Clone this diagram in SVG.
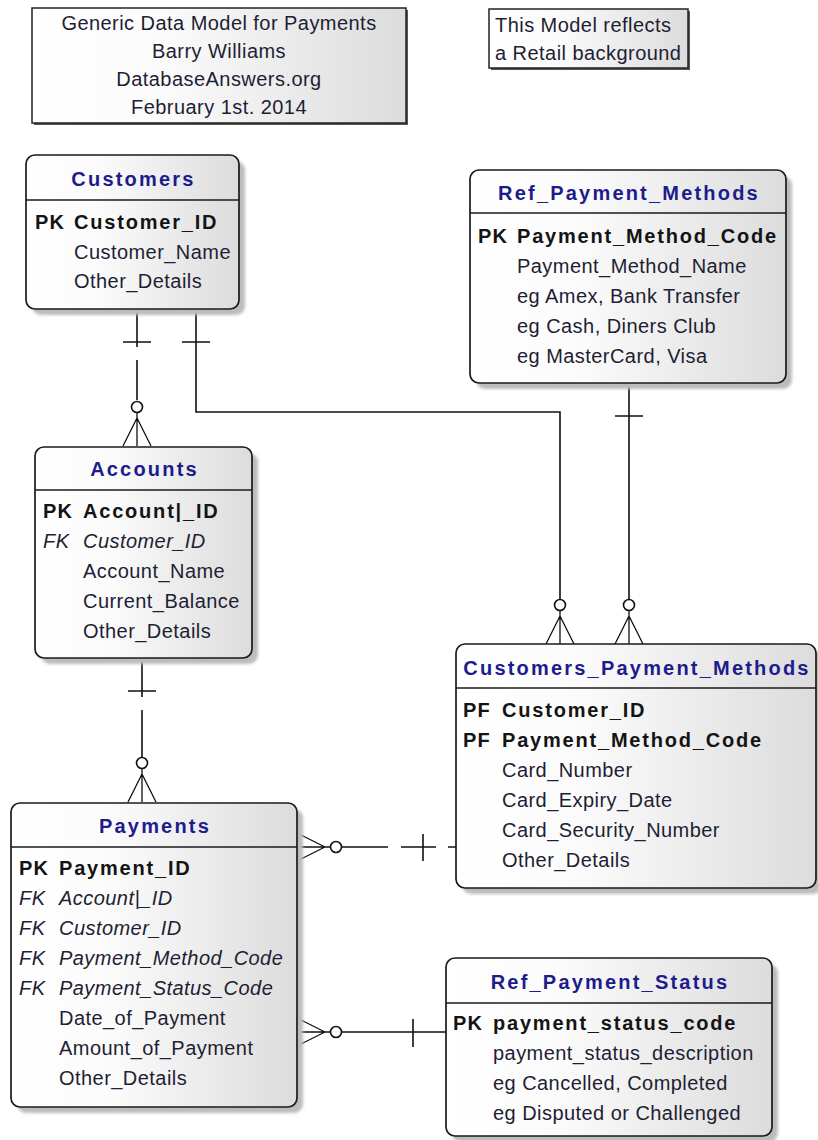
<svg xmlns="http://www.w3.org/2000/svg" xmlns:xlink="http://www.w3.org/1999/xlink" width="818" height="1140" viewBox="0 0 818 1140">
<style>
text{font-family:"Liberation Sans",Arial,sans-serif}
.t{font-size:20px;letter-spacing:0.45px;fill:#1e1e34}
.i{font-style:italic}
.b{font-size:20px;font-weight:bold;letter-spacing:1.8px;fill:#141414}
.k{font-size:20px;font-weight:bold;letter-spacing:1.2px;fill:#141414}
.ki{font-size:20px;font-style:italic;letter-spacing:0.6px;fill:#1e1e34}
.h{font-size:20px;font-weight:bold;letter-spacing:2.2px;fill:#1c1c8c;text-anchor:middle}
.c{text-anchor:middle}
.box{fill:url(#g);stroke:#1a1a1a;stroke-width:1.7}
.sh{fill:#bcbcbc;filter:url(#blur)}
.sep{stroke:#1a1a1a;stroke-width:1.7}
</style>
<defs>
<linearGradient id="g" x1="0" y1="0" x2="1" y2="0">
<stop offset="0" stop-color="#ffffff"/>
<stop offset="0.35" stop-color="#fbfbfb"/>
<stop offset="1" stop-color="#dcdcdc"/>
</linearGradient>
<filter id="blur" x="-10%" y="-10%" width="120%" height="120%"><feGaussianBlur stdDeviation="1.5"/></filter>
<g id="cf" fill="none" stroke="#111" stroke-width="1.3">
<path d="M0,0 L-14,28 M0,0 L14,28 M0,-5 V28"/>
<circle cx="0" cy="-11" r="5.5" fill="#fff" stroke-width="1.6"/>
</g>
</defs>
<rect width="818" height="1140" fill="#fff"/>

<g id="title">
<rect x="34" y="10" width="374" height="115" fill="#555"/>
<rect x="32" y="8" width="374" height="115" fill="url(#g)" stroke="#222" stroke-width="1.5"/>
<text class="t c" x="219" y="30">Generic Data Model for Payments</text>
<text class="t c" x="219" y="58">Barry Williams</text>
<text class="t c" x="219" y="86">DatabaseAnswers.org</text>
<text class="t c" x="219" y="114">February 1st. 2014</text>
</g>

<g id="note">
<rect x="491" y="11" width="199" height="59" fill="#555"/>
<rect x="489" y="9" width="199" height="59" fill="url(#g)" stroke="#222" stroke-width="1.5"/>
<text class="t" x="495" y="32">This Model reflects</text>
<text class="t" x="495" y="60">a Retail background</text>
</g>

<g id="connectors" fill="none" stroke="#111" stroke-width="1.6">
<path d="M137,309 V347 M123,342 H151 M137,360 V400"/>
<use xlink:href="#cf" transform="translate(137,418)"/>
<path d="M196,309 V412 H560 V599 M182,342 H210"/>
<use xlink:href="#cf" transform="translate(560,616)"/>
<path d="M629,383 V599 M615,416 H643"/>
<use xlink:href="#cf" transform="translate(629,616)"/>
<path d="M142,658 V697 M128,691 H156 M142,710 V757"/>
<use xlink:href="#cf" transform="translate(142,774)"/>
<path d="M341,847 H388 M401,847 H436 M448,847 H456 M423,834 V861"/>
<use xlink:href="#cf" transform="translate(325,847) rotate(90)"/>
<path d="M341,1032 H446 M413,1019 V1047"/>
<use xlink:href="#cf" transform="translate(325,1032) rotate(90)"/>
</g>

<g id="customers">
<rect class="sh" x="32" y="161" width="213" height="154" rx="9"/>
<rect class="box" x="26" y="155" width="213" height="154" rx="9"/>
<line class="sep" x1="26" y1="200" x2="239" y2="200"/>
<text class="h" x="133.5" y="186">Customers</text>
<text class="k" x="35" y="229">PK</text><text class="b" x="74" y="229">Customer_ID</text>
<text class="t" x="74" y="258.5">Customer_Name</text>
<text class="t" x="74" y="288">Other_Details</text>
</g>

<g id="ref_payment_methods">
<rect class="sh" x="476" y="176" width="316" height="213" rx="9"/>
<rect class="box" x="470" y="170" width="316" height="213" rx="9"/>
<line class="sep" x1="470" y1="213" x2="786" y2="213"/>
<text class="h" x="629" y="200">Ref_Payment_Methods</text>
<text class="k" x="478" y="243">PK</text><text class="b" x="517" y="243">Payment_Method_Code</text>
<text class="t" x="517" y="273">Payment_Method_Name</text>
<text class="t" x="517" y="303">eg Amex, Bank Transfer</text>
<text class="t" x="517" y="333">eg Cash, Diners Club</text>
<text class="t" x="517" y="363">eg MasterCard, Visa</text>
</g>

<g id="accounts">
<rect class="sh" x="41" y="453" width="217" height="211" rx="9"/>
<rect class="box" x="35" y="447" width="217" height="211" rx="9"/>
<line class="sep" x1="35" y1="490" x2="252" y2="490"/>
<text class="h" x="144.5" y="476">Accounts</text>
<text class="k" x="43" y="518">PK</text><text class="b" x="83" y="518">Account|_ID</text>
<text class="ki" x="43" y="548">FK</text><text class="t i" x="83" y="548">Customer_ID</text>
<text class="t" x="83" y="578">Account_Name</text>
<text class="t" x="83" y="608">Current_Balance</text>
<text class="t" x="83" y="638">Other_Details</text>
</g>

<g id="customers_payment_methods">
<rect class="sh" x="462" y="650" width="360" height="244" rx="9"/>
<rect class="box" x="456" y="644" width="360" height="244" rx="9"/>
<line class="sep" x1="456" y1="688" x2="816" y2="688"/>
<text class="h" x="637" y="675">Customers_Payment_Methods</text>
<text class="k" x="463" y="717">PF</text><text class="b" x="502" y="717">Customer_ID</text>
<text class="k" x="463" y="747">PF</text><text class="b" x="502" y="747">Payment_Method_Code</text>
<text class="t" x="502" y="777">Card_Number</text>
<text class="t" x="502" y="807">Card_Expiry_Date</text>
<text class="t" x="502" y="837">Card_Security_Number</text>
<text class="t" x="502" y="867">Other_Details</text>
</g>

<g id="payments">
<rect class="sh" x="17" y="809" width="286" height="304" rx="9"/>
<rect class="box" x="11" y="803" width="286" height="304" rx="9"/>
<line class="sep" x1="11" y1="847" x2="297" y2="847"/>
<text class="h" x="155" y="833">Payments</text>
<text class="k" x="19" y="875">PK</text><text class="b" x="59" y="875">Payment_ID</text>
<text class="ki" x="19" y="905">FK</text><text class="t i" x="59" y="905">Account|_ID</text>
<text class="ki" x="19" y="935">FK</text><text class="t i" x="59" y="935">Customer_ID</text>
<text class="ki" x="19" y="965">FK</text><text class="t i" x="59" y="965">Payment_Method_Code</text>
<text class="ki" x="19" y="995">FK</text><text class="t i" x="59" y="995">Payment_Status_Code</text>
<text class="t" x="59" y="1025">Date_of_Payment</text>
<text class="t" x="59" y="1055">Amount_of_Payment</text>
<text class="t" x="59" y="1085">Other_Details</text>
</g>

<g id="ref_payment_status">
<rect class="sh" x="452" y="964" width="326" height="178" rx="9"/>
<rect class="box" x="446" y="958" width="326" height="178" rx="9"/>
<line class="sep" x1="446" y1="1003" x2="772" y2="1003"/>
<text class="h" x="610" y="989">Ref_Payment_Status</text>
<text class="k" x="453" y="1030">PK</text><text class="b" x="493" y="1030">payment_status_code</text>
<text class="t" x="493" y="1060">payment_status_description</text>
<text class="t" x="493" y="1090">eg Cancelled, Completed</text>
<text class="t" x="493" y="1120">eg Disputed or Challenged</text>
</g>
</svg>
